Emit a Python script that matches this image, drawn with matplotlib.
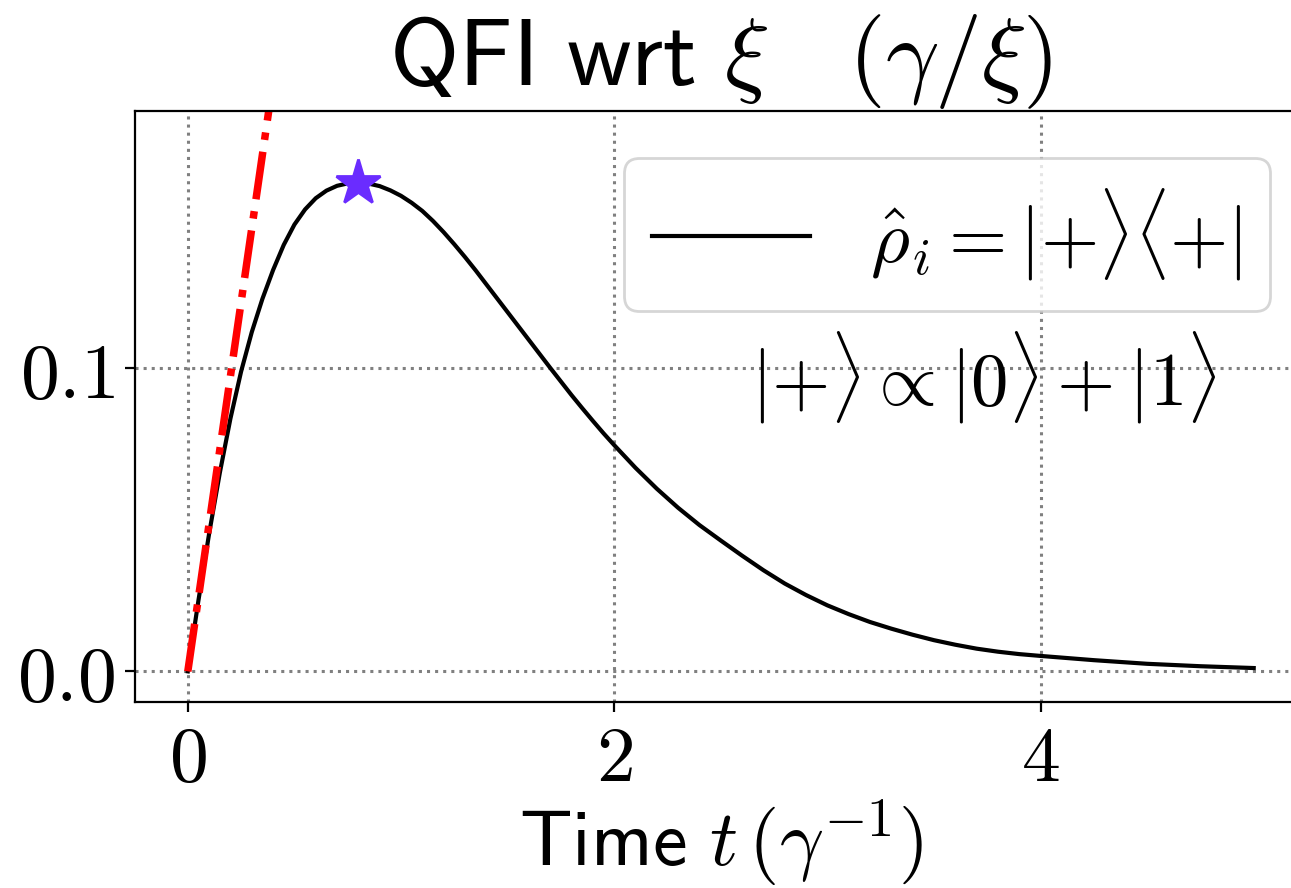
import numpy as np
import matplotlib
matplotlib.use("Agg")
import matplotlib.pyplot as plt

plt.rcParams["mathtext.fontset"] = "cm"
plt.rcParams["font.size"] = 28

# QFI curve (time in 1/gamma)
t_vals = [0.00, 0.05, 0.10, 0.15, 0.20, 0.25, 0.30, 0.35, 0.40, 0.45,
          0.50, 0.55, 0.60, 0.65, 0.70, 0.75, 0.80, 0.85, 0.90, 0.95,
          1.00, 1.05, 1.10, 1.15, 1.20, 1.25, 1.30, 1.35, 1.40, 1.45,
          1.50, 1.55, 1.60, 1.65, 1.70, 1.75, 1.80, 1.85, 1.90, 1.95,
          2.00, 2.10, 2.20, 2.30, 2.40, 2.50, 2.60, 2.70, 2.80, 2.90,
          3.00, 3.10, 3.20, 3.30, 3.40, 3.50, 3.60, 3.70, 3.80, 3.90,
          4.00, 4.25, 4.50, 4.75, 5.00]
qfi_vals = [0.0000, 0.0235, 0.0455, 0.0655, 0.0835, 0.0990, 0.1120, 0.1230, 0.1325, 0.1408,
            0.1475, 0.1525, 0.1562, 0.1587, 0.1603, 0.1611, 0.1613, 0.1610, 0.1602, 0.1588,
            0.1570, 0.1547, 0.1520, 0.1487, 0.1450, 0.1410, 0.1368, 0.1324, 0.1278, 0.1232,
            0.1186, 0.1140, 0.1094, 0.1048, 0.1002, 0.0957, 0.0912, 0.0869, 0.0827, 0.0786,
            0.0747, 0.0672, 0.0603, 0.0540, 0.0483, 0.0432, 0.0382, 0.0334, 0.0290, 0.0252,
            0.0218, 0.0189, 0.0163, 0.0141, 0.0121, 0.0103, 0.0088, 0.0075, 0.0065, 0.0057,
            0.0051, 0.0037, 0.0025, 0.0017, 0.0011]

# short-time line (red dash-dot)
short_t = [0.0, 0.40]
short_vals = [0.0, 0.195]

xtick_vals = [0, 2, 4]
xtick_labels = [r"$0$", r"$2$", r"$4$"]
ytick_vals = [0.0, 0.1]
ytick_labels = [r"$0.0$", r"$0.1$"]

fig = plt.figure(figsize=(6.455, 4.44), dpi=200)
ax = fig.add_axes([0.1042, 0.2095, 0.9082, 0.6655])

ax.plot(t_vals, qfi_vals, color="black", lw=1.5,
        label=r"$\hat{\rho}_i = |{+}\rangle\langle{+}|\,$")
ax.plot(short_t, short_vals, color="red", lw=2.7, ls="-.")

i_max = int(np.argmax(qfi_vals))
ax.plot(t_vals[i_max], qfi_vals[i_max], marker="*", ms=17, color="#6a2cff", zorder=5)

ax.set_xlim(-0.25, 5.25)
ax.set_ylim(-0.0101, 0.185)
ax.set_xticks(xtick_vals, labels=xtick_labels)
ax.set_yticks(ytick_vals, labels=ytick_labels)
ax.grid(True, linestyle=":", color="gray", lw=1.1)

ax.set_title(r"$\mathsf{QFI\ wrt}\ \xi\quad(\gamma/\xi)$", fontsize=34, pad=4)
ax.set_xlabel(r"$\mathsf{Time}\ t\,(\gamma^{-1})$", labelpad=0)

ax.legend(loc="upper right", bbox_to_anchor=(0.9685, 0.9205), borderaxespad=0,
          fontsize=27, borderpad=0.38, handlelength=2.1)
ax.text(0.724, 0.55, r"$|{+}\rangle \propto |0\rangle + |1\rangle$",
        transform=ax.transAxes, ha="center", va="center", fontsize=27)

fig.savefig("out.png", dpi=200)
